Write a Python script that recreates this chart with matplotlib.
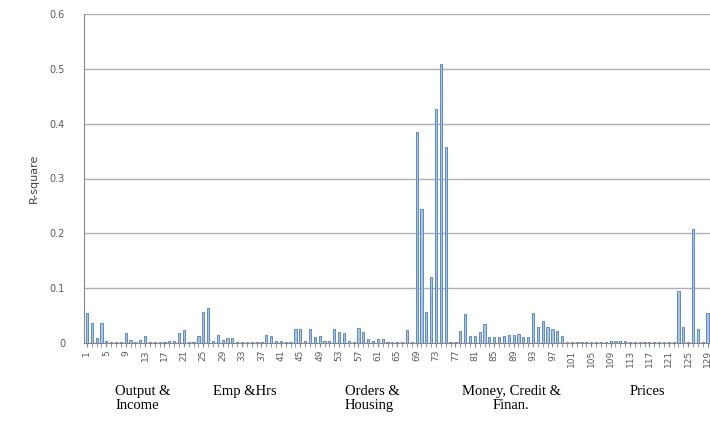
import matplotlib.pyplot as plt
import numpy as np

# R-square per series (1..129 shown)
r_square = [
    0.054, 0.037, 0.009, 0.036, 0.003, 0.002, 0.001, 0.002, 0.018, 0.005,
    0.002, 0.006, 0.013, 0.002, 0.002, 0.001, 0.002, 0.004, 0.004, 0.018,
    0.023, 0.002, 0.002, 0.012, 0.056, 0.063, 0.003, 0.015, 0.005, 0.009,
    0.009, 0.002, 0.001, 0.002, 0.001, 0.002, 0.002, 0.015, 0.012, 0.003,
    0.004, 0.002, 0.002, 0.025, 0.025, 0.004, 0.026, 0.010, 0.012, 0.004,
    0.003, 0.025, 0.020, 0.018, 0.003, 0.002, 0.028, 0.020, 0.008, 0.003,
    0.008, 0.008, 0.002, 0.002, 0.001, 0.002, 0.023, 0.002, 0.385, 0.244,
    0.056, 0.120, 0.427, 0.509, 0.358, 0.002, 0.002, 0.022, 0.052, 0.013,
    0.013, 0.020, 0.034, 0.011, 0.011, 0.011, 0.013, 0.014, 0.015, 0.017,
    0.010, 0.010, 0.054, 0.030, 0.040, 0.030, 0.026, 0.022, 0.013, 0.002,
    0.001, 0.001, 0.001, 0.001, 0.001, 0.001, 0.001, 0.002, 0.004, 0.004,
    0.003, 0.003, 0.002, 0.002, 0.001, 0.001, 0.001, 0.001, 0.001, 0.001,
    0.001, 0.002, 0.095, 0.030, 0.002, 0.207, 0.025, 0.002, 0.054,
]
series_no = np.arange(1, len(r_square) + 1)
tick_labels = list(range(1, 130, 4))
y_ticks = [0, 0.1, 0.2, 0.3, 0.4, 0.5, 0.6]

group_names = ["Output &\nIncome", "Emp &Hrs", "Orders &\nHousing",
               "Money, Credit &\nFinan.", "Prices"]

fig = plt.figure(figsize=(7.1, 4.25), dpi=100)
ax = fig.add_axes([0.119, 0.193, 0.881, 0.774])

ax.bar(series_no, r_square, width=0.45, color="#a9c4e6",
       edgecolor="#4a7ebb", linewidth=0.6, zorder=3)

ax.set_xlim(0.5, 129.5)
ax.set_ylim(0, 0.6)
ax.set_yticks(y_ticks)
ax.set_yticklabels(["0", "0.1", "0.2", "0.3", "0.4", "0.5", "0.6"],
                   fontsize=7, color="#595959")
ax.set_xticks(tick_labels)
ax.set_xticklabels([str(t) for t in tick_labels], rotation=90,
                   fontsize=6.5, color="#595959")
ax.set_xticks(series_no, minor=True)
ax.tick_params(axis="x", which="both", length=3, color="#868686", pad=2)
ax.tick_params(axis="y", length=0, pad=14)
ax.grid(axis="y", color="#b0b0b0", linewidth=1, zorder=0)
for s in ["top", "right"]:
    ax.spines[s].set_visible(False)
ax.spines["left"].set_color("#868686")
ax.spines["bottom"].set_color("#868686")
ax.set_ylabel("R-square", fontsize=8, color="#404040", labelpad=8)

fig.text(0.162, 0.094, group_names[0], ha="left", va="top",
         family="Liberation Serif", fontsize=10.5, linespacing=1.1)
fig.text(0.300, 0.094, group_names[1], ha="left", va="top",
         family="Liberation Serif", fontsize=10.5, linespacing=1.1)
fig.text(0.486, 0.094, group_names[2], ha="left", va="top",
         family="Liberation Serif", fontsize=10.5, linespacing=1.1)
fig.text(0.720, 0.094, group_names[3], ha="center", va="top",
         family="Liberation Serif", fontsize=10.5, linespacing=1.1,
         multialignment="center")
fig.text(0.887, 0.094, group_names[4], ha="left", va="top",
         family="Liberation Serif", fontsize=10.5, linespacing=1.1)

fig.savefig("out.png", dpi=100)
